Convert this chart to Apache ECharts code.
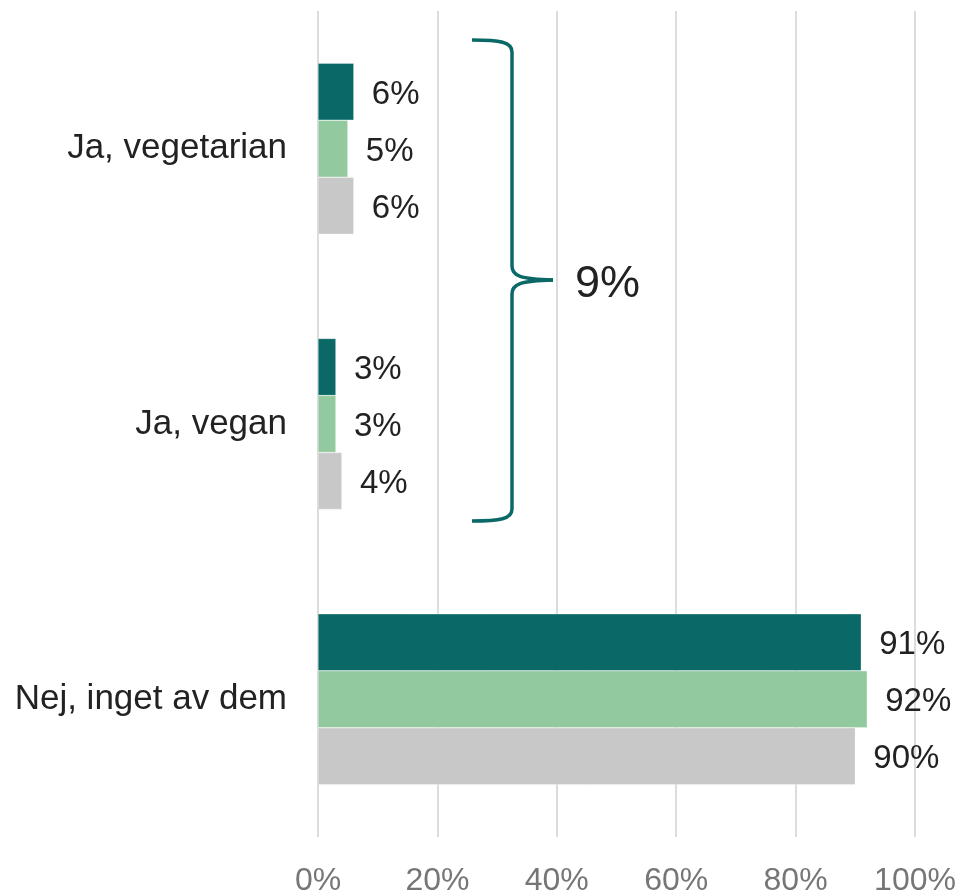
<!DOCTYPE html>
<html>
<head>
<meta charset="utf-8">
<script src="https://cdn.jsdelivr.net/npm/echarts@6/dist/echarts.min.js"></script>
<style>
	html, body { margin: 0; padding: 0; background: #fff; }
	#main { width: 962px; height: 895px; }
</style>
</head>
<body>
<div id="main"></div>
<script>
// kategorier (uppifrån och ned)
const categories = ['Ja, vegetarian', 'Ja, vegan', 'Nej, inget av dem'];
// tre serier, värden i procent
const seriesA = [6, 3, 91];
const seriesB = [5, 3, 92];
const seriesC = [6, 4, 90];
const seriesNames = ['Serie 1', 'Serie 2', 'Serie 3'];
const xTicks = [0, 20, 40, 60, 80, 100];
const braceLabel = '9%';

const myColor = ['#0a6966', '#93c99e', '#c8c8c8'];
const font = 'Arial, "Liberation Sans", sans-serif';

const chart = echarts.init(document.getElementById('main'));

function makeSeries(name, data, color) {
	return {
		name: name,
		type: 'bar',
		data: data,
		barWidth: 57,
		barGap: '0%',
		itemStyle: {
			color: color,
			borderColor: 'rgba(255,255,255,0.6)',
			borderWidth: 0.5
		},
		label: {
			show: true,
			position: 'right',
			distance: 18,
			offset: [0, 3],
			formatter: '{c}%',
			color: '#222222',
			fontSize: 33,
			fontFamily: font
		}
	};
}

// klammer: kurvor och raka bitar
const braceStyle = { stroke: '#0a6966', lineWidth: 3.5, fill: null };
function curve(x1, y1, cx1, cy1, cx2, cy2, x2, y2) {
	return {
		type: 'bezierCurve',
		shape: { x1: x1, y1: y1, cpx1: cx1, cpy1: cy1, cpx2: cx2, cpy2: cy2, x2: x2, y2: y2 },
		style: braceStyle
	};
}
function line(x1, y1, x2, y2) {
	return {
		type: 'line',
		shape: { x1: x1, y1: y1, x2: x2, y2: y2 },
		style: braceStyle
	};
}

const option = {
	animation: false,
	grid: {
		top: 11,
		bottom: 58,
		left: 318,
		right: 47,
		outerBoundsMode: 'none'
	},
	xAxis: {
		type: 'value',
		min: xTicks[0],
		max: xTicks[xTicks.length - 1],
		interval: 20,
		axisLine: { show: false },
		axisTick: { show: false },
		axisLabel: {
			formatter: '{value}%',
			color: '#767676',
			fontSize: 32,
			fontFamily: font,
			margin: 28
		},
		splitLine: {
			lineStyle: { color: '#dcdcdc', width: 2 }
		}
	},
	yAxis: {
		type: 'category',
		data: categories,
		inverse: true,
		axisLine: { show: false },
		axisTick: { show: false },
		axisLabel: {
			color: '#222222',
			fontSize: 35,
			fontFamily: font,
			margin: 31,
			padding: [0, 0, 6, 0]
		}
	},
	series: [
		makeSeries(seriesNames[0], seriesA, myColor[0]),
		makeSeries(seriesNames[1], seriesB, myColor[1]),
		makeSeries(seriesNames[2], seriesC, myColor[2])
	],
	graphic: [
		curve(472, 40, 500, 40, 512, 42, 512, 52),
		line(512, 52, 512, 266),
		curve(512, 266, 512, 276, 520, 279, 553, 280),
		curve(553, 280, 520, 281, 512, 284, 512, 294),
		line(512, 294, 512, 509),
		curve(512, 509, 512, 519, 500, 521, 472, 521),
		{
			type: 'text',
			left: 575,
			top: 262,
			style: {
				text: braceLabel,
				fill: '#222222',
				fontSize: 45,
				fontFamily: font
			}
		}
	]
};

chart.setOption(option);
</script>
</body>
</html>
